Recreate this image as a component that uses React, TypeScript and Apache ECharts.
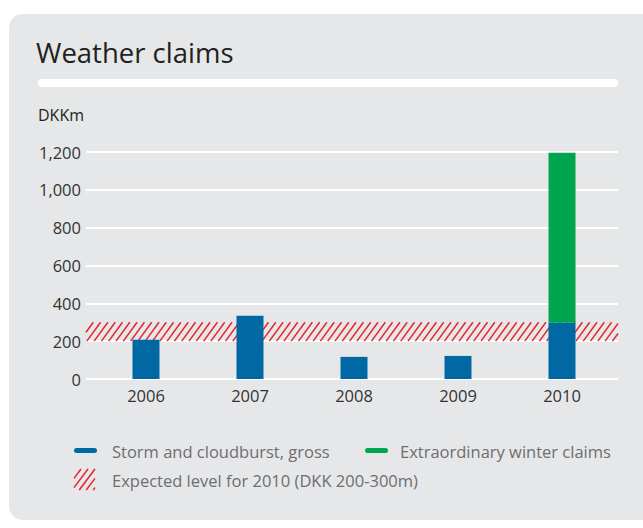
import React, { useEffect, useRef } from "react";
import * as echarts from "echarts";

const years = ["2006", "2007", "2008", "2009", "2010"];
const stormValues = [207, 334, 117, 122, 298];
const winterValues = [null, null, null, null, 898];
const expectedRange = [200, 300];
const yTicks = { min: 0, max: 1200, interval: 200 };
const seriesNames = ["Storm and cloudburst, gross", "Extraordinary winter claims", "Expected level for 2010 (DKK 200-300m)"];

const BLUE = "#0069a4";
const GREEN = "#00a64f";
const RED = "#e8232d";
const FONT = "'Open Sans', 'Noto Sans', sans-serif";

function hatchLines(xl: number, xr: number, yt: number, yb: number, spacing: number, ratio: number, width: number) {
  const h = yb - yt;
  const els: any[] = [];
  const dx = h * ratio;
  for (let xb = xl - dx; xb < xr; xb += spacing) {
    let x1 = xb, y1 = yb, x2 = xb + dx, y2 = yt;
    if (x1 < xl) { y1 = yb - (xl - xb) / ratio; x1 = xl; }
    if (x2 > xr) { y2 = yb - (xr - xb) / ratio; x2 = xr; }
    if (x2 <= x1) continue;
    els.push({ type: "line", shape: { x1, y1, x2, y2 }, style: { stroke: RED, lineWidth: width } });
  }
  return els;
}

export default function App() {
  const ref = useRef<HTMLDivElement>(null);
  useEffect(() => {
    if (!ref.current) return;
    const chart = echarts.init(ref.current, null, { renderer: "svg" });
    const legendText = { fill: "#6d6e71", fontSize: 16.5, fontFamily: FONT, verticalAlign: "middle" };
    const option: any = {
      animation: false,
      backgroundColor: "#ffffff",
      grid: [
        { left: 94, right: 29, top: 152, bottom: 149 },
        { left: 86, right: 25, top: 152, bottom: 149 },
      ],
      xAxis: [
        {
          type: "category", gridIndex: 0, data: years,
          axisLine: { show: false }, axisTick: { show: false },
          axisLabel: { color: "#333", fontSize: 16.5, fontFamily: FONT, margin: 8 },
        },
        { type: "value", gridIndex: 1, min: 0, max: 1, show: false },
      ],
      yAxis: [
        { type: "value", gridIndex: 0, ...yTicks, show: false, splitLine: { show: false } },
        {
          type: "value", gridIndex: 1, ...yTicks,
          axisLine: { show: false }, axisTick: { show: false },
          axisLabel: { color: "#333", fontSize: 16.5, fontFamily: FONT, margin: 5, formatter: (v: number) => v.toLocaleString("en-US") },
          splitLine: { lineStyle: { color: "#ffffff", width: 2 } },
        },
      ],
      graphic: [
        { type: "rect", z: -10, silent: true, shape: { x: 9, y: 14, width: 700, height: 506, r: 14 }, style: { fill: "#e6e7e8" } },
        { type: "rect", z: -9, shape: { x: 38, y: 79, width: 580, height: 8, r: 4 }, style: { fill: "#ffffff" } },
        { type: "text", x: 36, y: 52, style: { text: "Weather claims", fill: "#231f20", fontSize: 27.5, fontFamily: FONT, verticalAlign: "middle" } },
        { type: "text", x: 38, y: 115, style: { text: "DKKm", fill: "#231f20", fontSize: 16, fontFamily: FONT, verticalAlign: "middle" } },
        { type: "rect", shape: { x: 74, y: 448, width: 23, height: 5, r: 2.5 }, style: { fill: BLUE } },
        { type: "text", x: 112, y: 451, style: { text: seriesNames[0], ...legendText } },
        { type: "rect", shape: { x: 365, y: 448, width: 23, height: 5, r: 2.5 }, style: { fill: GREEN } },
        { type: "text", x: 400, y: 451, style: { text: seriesNames[1], ...legendText } },
        { type: "group", children: hatchLines(74, 95, 469, 490, 7, 0.75, 1.5) },
        { type: "text", x: 112, y: 480, style: { text: seriesNames[2], ...legendText } },
      ],
      series: [
        {
          name: seriesNames[2], type: "custom", xAxisIndex: 1, yAxisIndex: 1, z: 1,
          data: [[0, expectedRange[0], expectedRange[1]]],
          renderItem: (params: any, api: any) => {
            const cs = params.coordSys;
            const yb = api.coord([0, api.value(1)])[1];
            const yt = api.coord([0, api.value(2)])[1];
            return { type: "group", children: hatchLines(cs.x, cs.x + cs.width, yt, yb, 7.3, 0.73, 1.5) };
          },
        },
        {
          name: seriesNames[0], type: "bar", stack: "total", xAxisIndex: 0, yAxisIndex: 0, z: 5,
          barWidth: 27, data: stormValues, itemStyle: { color: BLUE },
        },
        {
          name: seriesNames[1], type: "bar", stack: "total", xAxisIndex: 0, yAxisIndex: 0, z: 5,
          barWidth: 27, data: winterValues, itemStyle: { color: GREEN },
        },
      ],
    };
    chart.setOption(option);
    return () => chart.dispose();
  }, []);
  return <div ref={ref} style={{ position: "absolute", left: 0, top: 0, width: 643, height: 528 }} />;
}
